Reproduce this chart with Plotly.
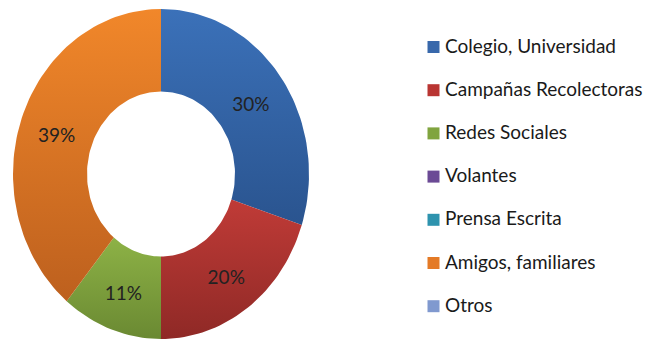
import math
import plotly.graph_objects as go

# Survey results: how people heard about the campaign (percent)
categories = ["Colegio, Universidad", "Campañas Recolectoras", "Redes Sociales",
              "Volantes", "Prensa Escrita", "Amigos, familiares", "Otros"]
values = [30, 20, 11, 0, 0, 39, 0]
# top / bottom shades of each slice, and flat legend swatch colours
top_colors = ["#3b71b9", "#c03b37", "#8db246", "#7a5aa3", "#35a0bb", "#f1872a", "#8eaadb"]
bottom_colors = ["#2a548f", "#8f2926", "#6a8932", "#5b3f82", "#27798f", "#bd601e", "#6f8cc0"]
legend_colors = ["#3868ab", "#b93532", "#80a43f", "#6b4a95", "#2e93ae", "#e47a26", "#8099cf"]

W, H = 652, 343
CX, CY = 161, 174          # ring centre (px)
RX, RY = 148, 165          # outer radii (px)
HOLE = 0.5
FONT = "Lato"


def px_to_data(px, py):
    return (px - CX) / RX, (CY - py) / RY


fig = go.Figure()

total = sum(values)
start = 0.0
label_x, label_y, label_txt = [], [], []
for cat, v, c0, c1 in zip(categories, values, top_colors, bottom_colors):
    frac = v / total
    a0, a1 = start * 2 * math.pi, (start + frac) * 2 * math.pi
    start += frac
    if v <= 0:
        continue
    n = max(8, int(200 * frac))
    ts = [a0 + (a1 - a0) * i / n for i in range(n + 1)]
    xs = [math.sin(t) for t in ts] + [HOLE * math.sin(t) for t in reversed(ts)]
    ys = [math.cos(t) for t in ts] + [HOLE * math.cos(t) for t in reversed(ts)]
    xs.append(xs[0]); ys.append(ys[0])
    fig.add_trace(go.Scatter(
        x=xs, y=ys, mode="lines", fill="toself",
        line=dict(width=0, color=c0),
        fillgradient=dict(type="vertical", colorscale=[[0, c1], [1, c0]]),
        hoverinfo="skip", showlegend=False, name=cat))
    am = (a0 + a1) / 2
    rm = (1 + HOLE) / 2
    label_x.append(rm * math.sin(am))
    label_y.append(rm * math.cos(am) - 5 / RY)
    label_txt.append(f"{v}%")

# slice percentages
fig.add_trace(go.Scatter(
    x=label_x, y=label_y, text=label_txt, mode="text",
    textfont=dict(family=FONT, size=19, color="#222222"),
    hoverinfo="skip", showlegend=False))

# legend column on the right: swatches plus labels
leg_x, leg_y = [], []
for i in range(len(categories)):
    lx, ly = px_to_data(433.5, 47 + i * 43.2)
    leg_x.append(lx)
    leg_y.append(ly)
fig.add_trace(go.Scatter(
    x=leg_x, y=leg_y, mode="markers",
    marker=dict(symbol="square", size=12, color=legend_colors, line=dict(width=0)),
    hoverinfo="skip", showlegend=False))

text_x = px_to_data(443, 0)[0]
for cat, ly in zip(categories, leg_y):
    fig.add_annotation(
        x=text_x, y=ly, xref="x", yref="y", text=cat, showarrow=False,
        xanchor="left", yanchor="middle", yshift=2,
        font=dict(family=FONT, size=19, color="#1a1a1a"))

x0, y0 = px_to_data(0, H)
x1, y1 = px_to_data(W, 0)
fig.update_layout(
    width=W, height=H, margin=dict(l=0, r=0, t=0, b=0),
    paper_bgcolor="white", plot_bgcolor="white",
    xaxis=dict(range=[x0, x1], visible=False, fixedrange=True),
    yaxis=dict(range=[y0, y1], visible=False, fixedrange=True),
)

fig.write_html("out.html")
